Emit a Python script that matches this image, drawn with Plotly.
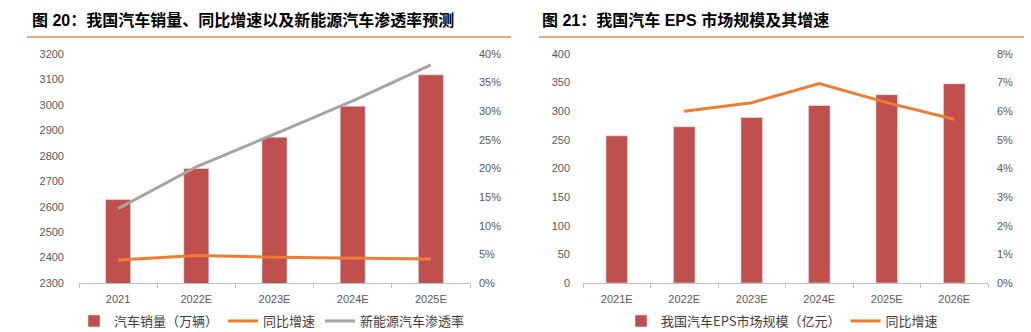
import plotly.graph_objects as go

# ---- data: left chart ----
years_l = ["2021", "2022E", "2023E", "2024E", "2025E"]
sales = [2628, 2750, 2873, 2995, 3118]          # 汽车销量（万辆）
sales_yoy = [0.040, 0.048, 0.045, 0.043, 0.042]  # 同比增速
nev_pen = [0.130, 0.203, 0.260, 0.318, 0.381]    # 新能源汽车渗透率

# ---- data: right chart ----
years_r = ["2021E", "2022E", "2023E", "2024E", "2025E", "2026E"]
eps_size = [257, 273, 289, 310, 329, 348]         # 我国汽车EPS市场规模（亿元）
eps_yoy = [None, 0.060, 0.063, 0.0697, 0.063, 0.0572]

left_ticks = [2300, 2400, 2500, 2600, 2700, 2800, 2900, 3000, 3100, 3200]
right_ticks = [0, 50, 100, 150, 200, 250, 300, 350, 400]

W, H = 1031, 332
RED = "#C0504D"
ORANGE = "#ED7D31"
GRAY = "#A5A5A5"
TICK = "#595959"
AXLINE = "#BFBFBF"
FONT = "Liberation Sans, Arial, Noto Sans CJK SC"
CJK = "Noto Sans CJK SC, Liberation Sans"

def px(x):
    return x / W

def py(y):
    return (H - y) / H

ydom = [py(283), py(54)]

fig = go.Figure()

fig.add_trace(go.Bar(x=years_l, y=sales, name="汽车销量（万辆）", marker_color=RED,
                     xaxis="x", yaxis="y", legend="legend"))
fig.add_trace(go.Scatter(x=years_l, y=sales_yoy, name="同比增速", mode="lines",
                         line=dict(color=ORANGE, width=3), xaxis="x", yaxis="y2", legend="legend"))
fig.add_trace(go.Scatter(x=years_l, y=nev_pen, name="新能源汽车渗透率", mode="lines",
                         line=dict(color=GRAY, width=3), xaxis="x", yaxis="y2", legend="legend"))

fig.add_trace(go.Bar(x=years_r, y=eps_size, name="我国汽车EPS市场规模（亿元）", marker_color=RED,
                     xaxis="x2", yaxis="y3", legend="legend2"))
fig.add_trace(go.Scatter(x=years_r, y=eps_yoy, name="同比增速", mode="lines",
                         line=dict(color=ORANGE, width=3), xaxis="x2", yaxis="y4", legend="legend2"))

xcommon = dict(type="category", showline=True, linecolor=AXLINE, linewidth=1,
               ticks="outside", tickson="boundaries", ticklen=4, tickcolor=AXLINE,
               ticklabelstandoff=6,
               showgrid=False, zeroline=False, tickfont=dict(family=FONT, size=11, color=TICK))
ycommon = dict(showgrid=False, zeroline=False, showline=False, ticks="",
               tickfont=dict(family=FONT, size=11, color=TICK))

legend_font = dict(family=CJK, size=13, color="#404040")

fig.update_layout(
    width=W, height=H,
    margin=dict(l=0, r=0, t=0, b=0, autoexpand=False),
    paper_bgcolor="white", plot_bgcolor="white",
    bargap=0.68,
    xaxis=dict(domain=[px(79), px(470)], anchor="y", **xcommon),
    yaxis=dict(domain=ydom, anchor="x", range=[2300, 3200], tickvals=left_ticks,
               ticklabelstandoff=14, **ycommon),
    yaxis2=dict(domain=ydom, anchor="x", overlaying="y", side="right", range=[0, 0.4],
                dtick=0.05, tickformat=".0%", ticklabelstandoff=8, **ycommon),
    xaxis2=dict(domain=[px(583), px(988)], anchor="y3", **xcommon),
    yaxis3=dict(domain=ydom, anchor="x2", range=[0, 400], tickvals=right_ticks,
                ticklabelstandoff=12, **ycommon),
    yaxis4=dict(domain=ydom, anchor="x2", overlaying="y3", side="right", range=[0, 0.08],
                dtick=0.01, tickformat=".0%", ticklabelstandoff=8, **ycommon),
    legend=dict(orientation="h", x=px(272), y=py(321), xanchor="center", yanchor="middle",
                yref="container", font=legend_font, bgcolor="rgba(0,0,0,0)"),
    legend2=dict(orientation="h", x=px(782), y=py(321), xanchor="center", yanchor="middle",
                 yref="container", font=legend_font, bgcolor="rgba(0,0,0,0)"),
    showlegend=True,
)

title_font = dict(family="Liberation Sans, Noto Sans CJK SC", size=16, color="#000000")
fig.add_annotation(text="<b>图 20：我国汽车销量、同比增速以及新能源汽车渗透率预测</b>",
                   xref="paper", yref="paper", x=px(30), y=py(20), xanchor="left", yanchor="middle",
                   showarrow=False, font=title_font)
fig.add_annotation(text="<b>图 21：我国汽车 EPS 市场规模及其增速</b>",
                   xref="paper", yref="paper", x=px(540), y=py(20), xanchor="left", yanchor="middle",
                   showarrow=False, font=title_font)

fig.add_shape(type="line", xref="paper", yref="paper", x0=px(27), x1=px(511), y0=py(37), y1=py(37),
              line=dict(color="#C8964B", width=1.5))
fig.add_shape(type="line", xref="paper", yref="paper", x0=px(539), x1=px(1024), y0=py(37), y1=py(37),
              line=dict(color="#C8964B", width=1.5))

fig.write_html("out.html")
